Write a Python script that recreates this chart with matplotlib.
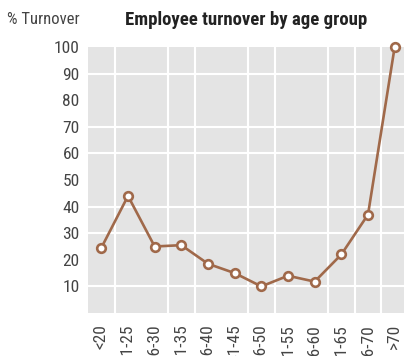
import numpy as np
import matplotlib.pyplot as plt

# Age bands and turnover share (%)
age_groups = ['<20', '21-25', '26-30', '31-35', '36-40', '41-45',
              '46-50', '51-55', '56-60', '61-65', '66-70', '>70']
turnover = [24.5, 44, 25, 25.5, 18.5, 15, 10, 14, 11.8, 22, 37, 100]
yticks = [10, 20, 30, 40, 50, 60, 70, 80, 90, 100]

# white grid lines drawn only at these places
grid_rows = [10, 30, 40, 60, 70, 90]
grid_cols = [0.5, 2.5, 3.5, 5.5, 6.5, 8.5, 9.5, 10.5]

plt.rcParams['font.family'] = ['Roboto Condensed', 'Archivo Narrow', 'DejaVu Sans']

fig = plt.figure(figsize=(4.04, 3.56), dpi=100)
ax = fig.add_axes([88/404, 1 - 313/356, 320/404, 266/356])
ax.set_facecolor('#e4e4e4')

for r in grid_rows:
    ax.axhline(r, color='white', lw=1.5, zorder=1)
for c in grid_cols:
    ax.axvline(c, color='white', lw=1.5, zorder=1)

x = np.arange(len(age_groups))
ax.plot(x, turnover, color='#a0694a', lw=1.9, marker='o', ms=6.2,
        mfc='white', mec='#a0694a', mew=1.9, zorder=3, clip_on=False)

ax.set_xlim(-0.5, len(age_groups) - 0.5)
ax.set_ylim(0, 100)
ax.set_yticks(yticks)
ax.set_xticks(x)
ax.set_xticklabels(age_groups, rotation=90, va='top')
ax.tick_params(length=0, labelsize=12.5, colors='#444444')
ax.tick_params(axis='y', pad=6)
ax.tick_params(axis='x', pad=8)
for s in ax.spines.values():
    s.set_visible(False)

fig.text(80/404, 1 - 20/356, '% Turnover', ha='right', va='center',
         fontsize=12, color='#444444')
fig.text(246/404, 1 - 20/356, 'Employee turnover by age group', ha='center',
         va='center', fontsize=13.5, fontweight='bold', color='#222222')

fig.savefig('out.png', dpi=100)
